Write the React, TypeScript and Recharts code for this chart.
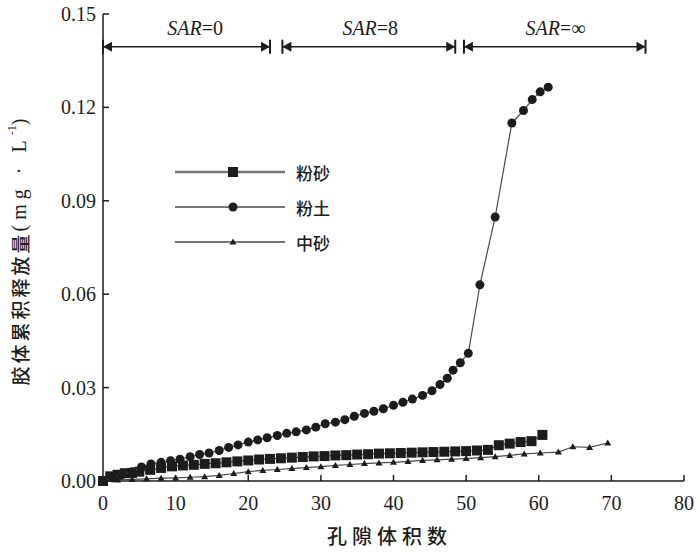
import { ScatterChart, Scatter, XAxis, YAxis, Legend } from 'recharts'

// 粉砂 (squares)
const fenShaX = [0, 1, 2, 3, 4, 5, 6.5, 8, 9.5, 11, 12.5, 14, 15.5, 17, 18.5, 20, 21.5, 23, 24.5, 26, 27.5, 29, 30.5, 32, 33.5, 35, 36.5, 38, 39.5, 41, 42.5, 44, 45.5, 47, 48.5, 50, 51.5, 53, 54.5, 56, 57.5, 59, 60.5]
const fenShaY = [0, 0.0015, 0.002, 0.0025, 0.0026, 0.003, 0.0036, 0.0042, 0.0047, 0.005, 0.0052, 0.0055, 0.0057, 0.006, 0.0063, 0.0066, 0.0069, 0.0071, 0.0073, 0.0075, 0.0077, 0.0079, 0.008, 0.0082, 0.0083, 0.0085, 0.0086, 0.0088, 0.0089, 0.009, 0.0091, 0.0092, 0.0093, 0.0094, 0.0095, 0.0096, 0.0098, 0.01, 0.0115, 0.012, 0.0125, 0.0128, 0.0148]

// 粉土 (circles)
const fenTuX = [0, 1.3, 2.6, 4, 5.3, 6.6, 8, 9.3, 10.6, 12, 13.3, 14.6, 16, 17.3, 18.6, 20, 21.3, 22.6, 24, 25.3, 26.6, 28, 29.3, 30.6, 32, 33.3, 34.6, 36, 37.3, 38.6, 40, 41.3, 42.6, 44, 45.3, 46.4, 47.4, 48.2, 49.2, 50.3, 51.9, 54, 56.3, 57.9, 59.1, 60.2, 61.3]
const fenTuY = [0, 0.001, 0.002, 0.003, 0.0045, 0.0055, 0.006, 0.0065, 0.007, 0.0078, 0.0085, 0.009, 0.0098, 0.0108, 0.0116, 0.0125, 0.0132, 0.0139, 0.0146, 0.0153, 0.0158, 0.0164, 0.0173, 0.0184, 0.0189, 0.0197, 0.0208, 0.0217, 0.0224, 0.0232, 0.0243, 0.0253, 0.0263, 0.0275, 0.029, 0.031, 0.033, 0.0356, 0.038, 0.041, 0.063, 0.0848, 0.115, 0.119, 0.1225, 0.125, 0.1265]

// 中砂 (small triangles)
const zhongShaX = [0, 2, 4, 6, 8, 10, 12, 14, 16, 18, 20, 22, 24, 26, 28, 30, 32, 34, 36, 38, 40, 42, 44, 46, 48, 50, 52, 54, 56, 58, 60.2, 62.7, 64.7, 67, 69.5]
const zhongShaY = [0, 0.0003, 0.0005, 0.0007, 0.0009, 0.001, 0.0012, 0.0014, 0.0018, 0.0024, 0.003, 0.0034, 0.0037, 0.004, 0.0043, 0.0046, 0.005, 0.0053, 0.0056, 0.0058, 0.006, 0.0063, 0.0066, 0.0068, 0.007, 0.0072, 0.0075, 0.0078, 0.0082, 0.0087, 0.009, 0.0093, 0.011, 0.0108, 0.0122]

// SAR stage brackets along the top
const sarStart = [0, 24.7, 49.7]
const sarEnd = [23, 48.5, 74.7]
const sarValues = ['0', '8', '∞']
const sarLabelX = [12.7, 36.8, 62.3]
const sarLineY = 0.1395
const sarLabelY = 0.1455

const xTicks = [0, 10, 20, 30, 40, 50, 60, 70, 80]
const yTicks = [0, 0.03, 0.06, 0.09, 0.12, 0.15]

const INK = '#1c1c1c'
const LINE = '#4a4a4a'
const SERIF = '"Liberation Serif", "DejaVu Serif", serif'
const CJK = '"Noto Sans CJK SC", sans-serif'

const toPts = (xs: number[], ys: number[]) => xs.map((x, i) => ({ x, y: ys[i] }))

const SquareDot = ({ cx, cy }: any) => (
  <rect x={cx - 5} y={cy - 5} width={10} height={10} fill={INK} />
)
const RoundDot = ({ cx, cy }: any) => <circle cx={cx} cy={cy} r={4.5} fill={INK} />
const TriDot = ({ cx, cy }: any) => (
  <path d={`M${cx},${cy - 3.5}L${cx + 3.5},${cy + 2.5}L${cx - 3.5},${cy + 2.5}Z`} fill={INK} />
)

const ArrowEnd = ({ cx, cy, payload }: any) => {
  const d = payload.dir
  return (
    <g>
      <line x1={cx} x2={cx} y1={cy - 7} y2={cy + 7} stroke={INK} strokeWidth={2} />
      <path d={`M${cx},${cy}L${cx - d * 9},${cy - 5}L${cx - d * 9},${cy + 5}Z`} fill={INK} />
    </g>
  )
}

const SarText = ({ cx, cy, payload }: any) => (
  <text x={cx} y={cy} textAnchor="middle" dominantBaseline="central" fontFamily={SERIF} fontSize={20} fill={INK}>
    <tspan fontStyle="italic">SAR</tspan>={payload.v}
  </text>
)

const XTick = ({ x, y, payload }: any) => (
  <g>
    {payload.value !== 0 ? <line x1={x} x2={x} y1={y} y2={y - 6} stroke={INK} strokeWidth={1.5} /> : null}
    <text x={x} y={y + 29} textAnchor="middle" fontFamily={SERIF} fontSize={20} fill={INK}>
      {payload.value}
    </text>
  </g>
)

const YTick = ({ x, y, payload }: any) => (
  <g>
    {payload.value !== 0 ? <line x1={x} x2={x + 6} y1={y} y2={y} stroke={INK} strokeWidth={1.5} /> : null}
    <text x={x - 7} y={y + 7} textAnchor="end" fontFamily={SERIF} fontSize={20} fill={INK}>
      {payload.value.toFixed(2)}
    </text>
  </g>
)

const legendRows = [
  { name: '粉砂', Dot: SquareDot, w: 2.5, c: '#777' },
  { name: '粉土', Dot: RoundDot, w: 1.3, c: LINE },
  { name: '中砂', Dot: TriDot, w: 1.3, c: LINE },
]

const renderLegend = () => (
  <svg width={170} height={100}>
    {legendRows.map((r, i) => {
      const y = 14 + i * 35
      return (
        <g key={r.name}>
          <line x1={5} x2={115} y1={y} y2={y} stroke={r.c} strokeWidth={r.w} />
          <r.Dot cx={63} cy={y} />
          <text x={126} y={y} dominantBaseline="central" fontFamily={CJK} fontSize={17} fontWeight={500} fill={INK}>
            {r.name}
          </text>
        </g>
      )
    })}
  </svg>
)

export default function App() {
  const fenSha = toPts(fenShaX, fenShaY)
  const fenTu = toPts(fenTuX, fenTuY)
  const zhongSha = toPts(zhongShaX, zhongShaY)
  const brackets = sarStart.map((s, i) => [
    { x: s, y: sarLineY, dir: -1 },
    { x: sarEnd[i], y: sarLineY, dir: 1 },
  ])
  const sarLabels = sarLabelX.map((x, i) => ({ x, y: sarLabelY, v: sarValues[i] }))

  return (
    <div style={{ position: 'absolute', left: 0, top: 0, background: '#fff' }}>
      <ScatterChart width={700} height={554} margin={{ top: 14, right: 16, bottom: 0, left: 0 }}>
        <XAxis
          type="number"
          dataKey="x"
          domain={[0, 80]}
          ticks={xTicks}
          height={73}
          tickSize={0}
          tickMargin={0}
          tickLine={false}
          axisLine={{ stroke: INK, strokeWidth: 1.5 }}
          tick={XTick}
          label={(p: any) => {
            const vb = p.viewBox
            return (
              <text
                x={vb.x + vb.width / 2 - 4}
                y={vb.y + 63}
                textAnchor="middle"
                fontFamily={CJK}
                fontSize={20}
                fontWeight={500}
                letterSpacing={5}
                fill={INK}
              >
                孔隙体积数
              </text>
            )
          }}
        />
        <YAxis
          type="number"
          dataKey="y"
          domain={[0, 0.15]}
          ticks={yTicks}
          width={103}
          tickSize={0}
          tickMargin={0}
          tickLine={false}
          axisLine={{ stroke: INK, strokeWidth: 1.5 }}
          tick={YTick}
          label={(p: any) => {
            const vb = p.viewBox
            const cx = vb.x + 19
            const cy = 252
            return (
              <text
                x={cx}
                y={cy}
                transform={`rotate(-90 ${cx} ${cy})`}
                textAnchor="middle"
                dominantBaseline="central"
                fill={INK}
              >
                <tspan fontFamily={CJK} fontSize={19} fontWeight={500} letterSpacing={3}>
                  胶体累积释放量
                </tspan>
                <tspan fontFamily={SERIF} fontSize={20} letterSpacing={5}>
                  (mg · L
                </tspan>
                <tspan fontFamily={SERIF} fontSize={12} dy={-7}>
                  -1
                </tspan>
                <tspan fontFamily={SERIF} fontSize={20} dy={7}>
                  )
                </tspan>
              </text>
            )
          }}
        />
        <Legend
          layout="vertical"
          align="center"
          verticalAlign="middle"
          content={renderLegend}
          wrapperStyle={{ position: 'absolute', left: 170, top: 158, width: 170, height: 100 }}
        />
        <Scatter
          name="中砂"
          data={zhongSha}
          line={{ stroke: LINE, strokeWidth: 1.2 }}
          shape={TriDot}
          isAnimationActive={false}
        />
        <Scatter
          name="粉砂"
          data={fenSha}
          line={{ stroke: LINE, strokeWidth: 1.2 }}
          shape={SquareDot}
          isAnimationActive={false}
        />
        <Scatter
          name="粉土"
          data={fenTu}
          line={{ stroke: LINE, strokeWidth: 1.2 }}
          shape={RoundDot}
          isAnimationActive={false}
        />
        {brackets.map((b, i) => (
          <Scatter
            key={'b' + i}
            data={b}
            line={{ stroke: INK, strokeWidth: 1.5 }}
            shape={ArrowEnd}
            legendType="none"
            isAnimationActive={false}
          />
        ))}
        <Scatter data={sarLabels} shape={SarText} legendType="none" isAnimationActive={false} />
      </ScatterChart>
    </div>
  )
}
